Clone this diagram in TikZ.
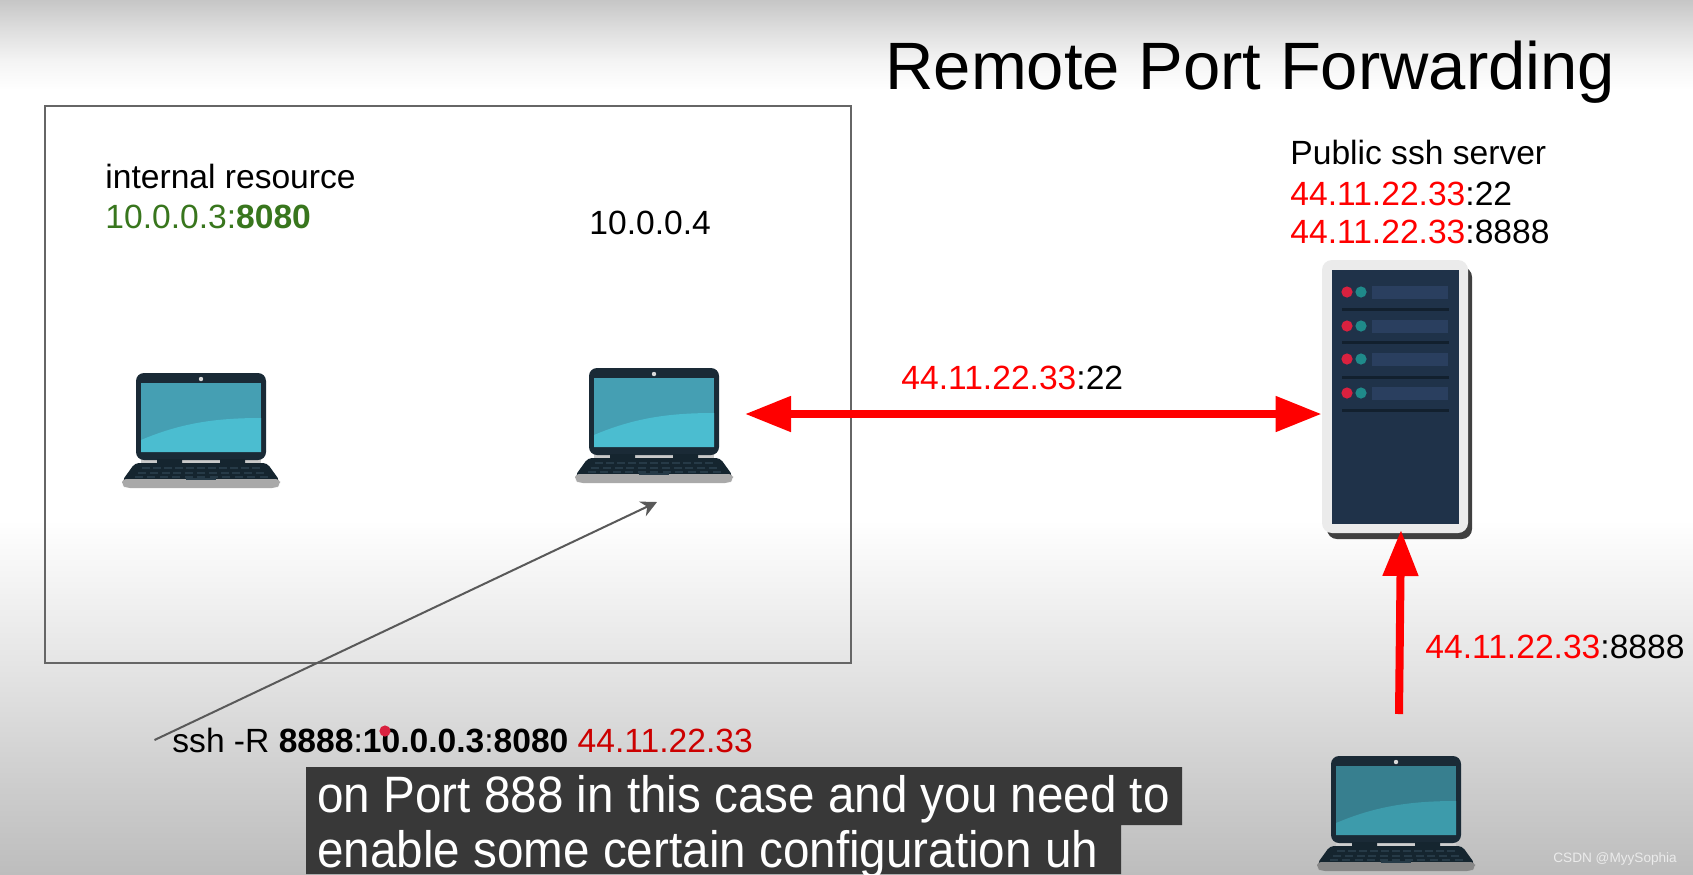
\documentclass[tikz,border=0pt]{standalone}
\usepackage{fontspec}
\setmainfont{Liberation Sans}
\newfontfamily\capfont[FakeStretch=0.93]{Liberation Sans}
\usetikzlibrary{arrows.meta,positioning}
\definecolor{bgA}{HTML}{BDBDBD}
\definecolor{bgB}{HTML}{CECECE}
\definecolor{bgC}{HTML}{E4E4E4}
\definecolor{bgD}{HTML}{F8F8F8}
\definecolor{bgE}{HTML}{F4F4F4}
\definecolor{bgF}{HTML}{DEDEDE}
\definecolor{bgG}{HTML}{C6C6C6}
\pgfdeclareverticalshading{slidebg}{100bp}{
  color(0bp)=(bgA);color(25bp)=(bgA);color(30.4bp)=(bgB);color(36.75bp)=(bgC);color(43.15bp)=(bgD);
  color(45.25bp)=(white);color(69.85bp)=(white);color(71.5bp)=(bgE);color(73.3bp)=(bgF);
  color(75bp)=(bgG);color(100bp)=(bgG)}
\definecolor{addrred}{HTML}{FF0000}
\definecolor{cmdred}{HTML}{CC0000}
\definecolor{resgreen}{HTML}{38761D}
\definecolor{lidcol}{HTML}{1A2A36}
\definecolor{kbcol}{HTML}{15252F}
\definecolor{keycol}{HTML}{263A47}
\definecolor{basecol}{HTML}{A9A9A9}
\definecolor{hingecol}{HTML}{C9C9C9}
\definecolor{scrcol}{HTML}{459FB3}
\definecolor{glarecol}{HTML}{4BBDD0}
\definecolor{rackcol}{HTML}{1F3249}
\definecolor{slotcol}{HTML}{2A3F5F}
\definecolor{ledred}{HTML}{D9213F}
\definecolor{ledteal}{HTML}{1F8A8A}
\definecolor{railcol}{HTML}{12202E}
\tikzset{
  laptop/.pic={
    \fill[hingecol] (-60,85) rectangle (60,90);
    \fill[lidcol,rounded corners=4pt] (-65,0) rectangle (65,87);
    \fill[kbcol] (-44,86) rectangle (-19,90) (19,86) rectangle (44,90);
    \fill[kbcol,rounded corners=2pt] (-66,90) -- (66,90) -- (79,108) -- (-79,108) -- cycle;
    \fill[basecol,rounded corners=2pt] (-79,106) -- (79,106) -- (79,112) -- (75,115) -- (-75,115) -- (-79,112) -- cycle;
    \foreach \r/\s in {0/62,1/66,2/70}
      \foreach \k in {-5,...,5}
        \fill[keycol] ({\k*\s/5.6-4},{94+\r*4.5}) rectangle ++(8,2);
    \fill[keycol] (-15,105) rectangle (15,106.5);
    \fill[scrcol] (-60,10) rectangle (60,79);
    \fill[glarecol] (-60,67) .. controls (-20,50) and (15,45) .. (60,45) -- (60,79) -- (-60,79) -- cycle;
    \fill[gray!30] (0,6) circle (2.2);
  }
}
\begin{document}
\begin{tikzpicture}[
      x=0.5pt,y=-0.5pt,
      lbl/.style={anchor=base west,inner sep=0pt,font=\fontsize{16.8}{20}\selectfont},
      redarrow/.style={draw=addrred,line width=4pt},
      srvframe/.style={fill=black!8,rounded corners=5pt,minimum width=73pt,minimum height=136.5pt,inner sep=0pt},
      capline/.style={anchor=base west,inner sep=0pt,text=white,font=\capfont\fontsize{25.6}{30}\selectfont}]
    \useasboundingbox (0,0) rectangle (1693,874);
    \shade[shading=slidebg] (0,0) rectangle (1693,874);
    \node[lbl,font=\fontsize{33.5}{40}\selectfont] (title) at (885,89) {Remote Port Forwarding};
    \node[draw=black!60,line width=1pt,minimum width=403pt,minimum height=278.5pt,inner sep=0pt] (lan) at (447.5,384.5) {};
    % internal network
    \node[lbl] (resname) at (105,188) {internal resource};
    \node[lbl,text=resgreen,below=20pt of resname.base west,anchor=base west] (resaddr) {10.0.0.3:\textbf{8080}};
    \node[lbl] (jumpaddr) at (589,234) {10.0.0.4};
    \pic at (201,373) {laptop};
    \pic at (654,368) {laptop};
    % public server
    \node[lbl] (srvname) at (1290,164) {Public ssh server};
    \node[lbl,below=20.5pt of srvname.base west,anchor=base west] (srvssh) {\textcolor{addrred}{44.11.22.33}:22};
    \node[lbl,below=19pt of srvssh.base west,anchor=base west] (srvfwd) {\textcolor{addrred}{44.11.22.33}:8888};
    \fill[black!75,rounded corners=5pt] (1327,267) rectangle (1472,539);
    \node[srvframe] (srv) at (1395,396.5) {};
    \fill[rackcol] (1332,270) rectangle (1459,524);
    \foreach \yy/\ll in {292/309,326/342,359/377,393/410} {
      \fill[slotcol] (1372,\yy-6.5) rectangle (1448,\yy+6.5);
      \fill[ledred] (1347,\yy) circle [radius=2.8pt];
      \fill[ledteal] (1361,\yy) circle [radius=2.8pt];
      \fill[railcol] (1342,\ll-1.5) rectangle (1449,\ll+1.5);
    }
    % connections
    \coordinate (jumpport) at (745,414);
    \coordinate (srvbot) at (1401,530);
    \coordinate (clientport) at (1399,714);
    \coordinate (cmdtail) at (154.5,740);
    \coordinate (jumptip) at (657,502);
    \draw[redarrow,{Triangle[length=23pt,width=17pt]}-{Triangle[length=23pt,width=17pt]}] (jumpport) -- (srv.west |- jumpport);
    \draw[redarrow,-{Triangle[length=23pt,width=17pt]}] (clientport) -- (srvbot);
    \draw[draw=black!65,line width=1pt,-{Stealth[length=8pt,width=8pt]}] (cmdtail) -- (jumptip);
    \node[lbl] (tunlbl) at (901,389) {\textcolor{addrred}{44.11.22.33}:22};
    \node[lbl] (fwdlbl) at (1425,658) {\textcolor{addrred}{44.11.22.33}:8888};
    \node[lbl] (cmd) at (172,752) {ssh -R \textbf{8888}:\textbf{10.0.0.3}:\textbf{8080} \textcolor{cmdred}{44.11.22.33}};
    \fill[ledred] (385,731) circle [radius=2.8pt];
    % client laptop, dimmed by the slide gradient
    \colorlet{scrcol}{scrcol!80!black}
    \colorlet{glarecol}{glarecol!82!black}
    \colorlet{basecol}{basecol!80!black}
    \colorlet{hingecol}{bgB}
    \pic at (1396,756) {laptop};
    % caption bar
    \fill[black!78] (306,767) rectangle (1182,825) (306,825) rectangle (1121,874);
    \node[capline] (capa) at (317,812) {on Port 888 in this case and you need to};
    \node[capline] (capb) at (317,867) {enable some certain configuration uh};
    \node[lbl,text=black!8,font=\fontsize{6.8}{8}\selectfont] (mark) at (1553,862) {CSDN @MyySophia};
  \end{tikzpicture}
\end{document}
